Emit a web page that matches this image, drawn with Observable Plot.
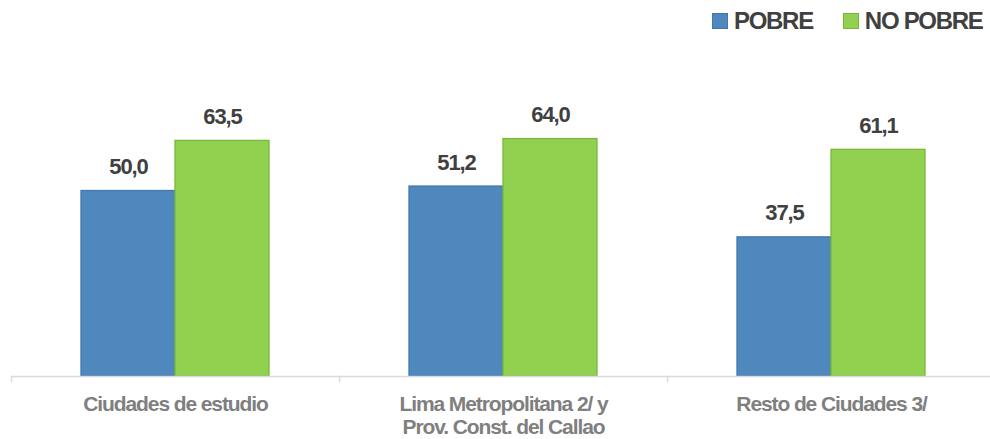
<!DOCTYPE html>
<html>
<head>
<meta charset="utf-8">
<script src="https://cdn.jsdelivr.net/npm/d3@7"></script>
<script src="https://cdn.jsdelivr.net/npm/@observablehq/plot@0.6"></script>
<style>
  html, body { margin: 0; padding: 0; background: #fff; }
  #wrap { position: relative; width: 990px; height: 439px; overflow: hidden; }
  #chart svg text { letter-spacing: -1.1px; }
  #legend { position: absolute; top: 7px; left: 712px; display: flex; gap: 30px;
    font-family: "Liberation Sans Narrow", "Arial Narrow", "Liberation Sans", sans-serif;
    font-weight: bold; font-size: 24px; letter-spacing: -1.3px; color: #404040; }
  #legend .item { display: flex; align-items: center; gap: 6px; }
  #legend .sw { width: 14px; height: 14px; border: 1px solid; }
</style>
</head>
<body>
<div id="wrap">
  <div id="chart"></div>
  <div id="legend"></div>
</div>
<script>
const categories = ["Ciudades de estudio", "Lima Metropolitana 2/ y\nProv. Const. del Callao", "Resto de Ciudades 3/"];
const series = ["POBRE", "NO POBRE"];
const pobre = [50.0, 51.2, 37.5];
const noPobre = [63.5, 64.0, 61.1];
const fills = ["#4f88bd", "#92d050"];
const strokes = ["#4178ad", "#77b83a"];

const data = [];
categories.forEach((c, i) => {
  data.push({category: c, series: series[0], value: pobre[i]});
  data.push({category: c, series: series[1], value: noPobre[i]});
});

const font = '"Liberation Sans Narrow", "Arial Narrow", "Liberation Sans", sans-serif';
const fmt = d => d.toFixed(1).replace(".", ",");

const plot = Plot.plot({
  width: 990,
  height: 439,
  marginLeft: 10,
  marginRight: 0,
  marginTop: 5,
  marginBottom: 58,
  style: {fontFamily: font, background: "#fff"},
  fx: {domain: categories, range: [10, 995], padding: 0, label: null},
  x: {domain: series, paddingInner: 0, paddingOuter: 0.74, axis: null},
  y: {domain: [0, 100], range: [376, 5], axis: null},
  color: {domain: series, range: fills},
  marks: [
    Plot.barY(data, {fx: "category", x: "series", y: "value", fill: "series",
      stroke: d => strokes[series.indexOf(d.series)], strokeWidth: 1.3}),
    Plot.ruleY([0], {stroke: "#d9d9d9", strokeWidth: 1.5}),
    Plot.frame({anchor: "left", stroke: "#d9d9d9", strokeWidth: 1.5, insetTop: 371}),
    Plot.text(data, {fx: "category", x: "series", y: "value", text: d => fmt(d.value),
      dy: -24, fontSize: 22, fontWeight: "bold", fill: "#404040", lineAnchor: "middle"}),
    Plot.axisFx({anchor: "bottom", tickSize: 0, tickPadding: 13, fontSize: 21,
      fontWeight: "bold", fill: "#7f7f7f", lineHeight: 1.1, label: null})
  ]
});
document.getElementById("chart").appendChild(plot);

const legend = document.getElementById("legend");
series.forEach((s, i) => {
  const item = document.createElement("div");
  item.className = "item";
  const sw = document.createElement("span");
  sw.className = "sw";
  sw.style.background = fills[i];
  sw.style.borderColor = strokes[i];
  const t = document.createElement("span");
  t.textContent = s;
  item.appendChild(sw);
  item.appendChild(t);
  legend.appendChild(item);
});
</script>
</body>
</html>
